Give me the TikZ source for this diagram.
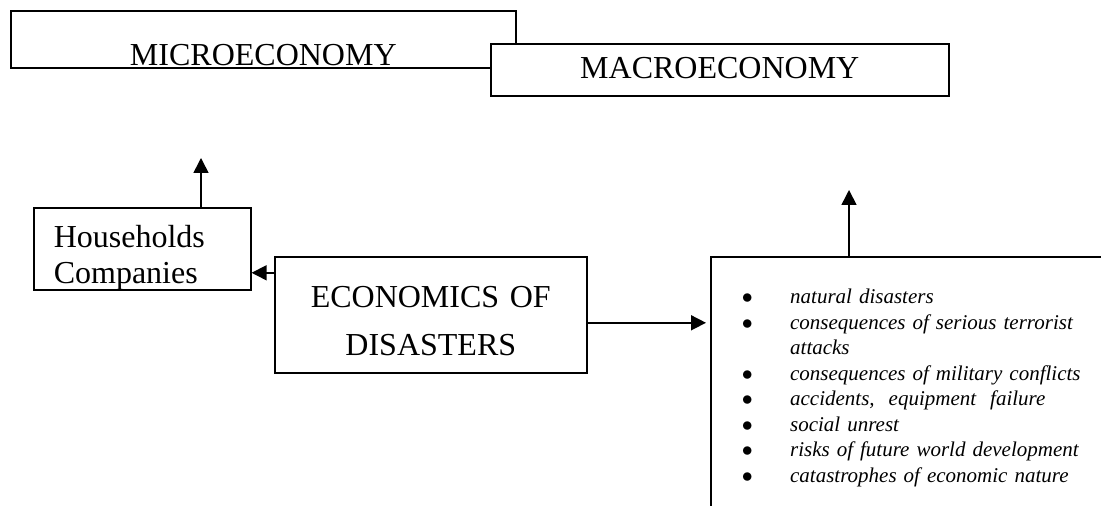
\documentclass[tikz,border=0pt]{standalone}
\usepackage{fontspec}
\setmainfont{Liberation Serif}
\usetikzlibrary{arrows.meta}

\begin{document}
\begin{tikzpicture}[
    x=0.5pt, y=-0.5pt,
    box/.style={rectangle, draw, thick, inner sep=0pt, anchor=north west, font=\fontsize{16}{18}\selectfont},
    arrow/.style={-{Triangle[length=7.5pt, width=7.5pt]}, thick}
]
\useasboundingbox (0,0) rectangle (1101,506);
\clip (0,0) rectangle (1101,506);

% Micro and macro level
\node[box, minimum width=252.5pt, text height=27.5pt, text depth=1pt] (micro) at (10,10) {MICROECONOMY};
\node[box, fill=white, minimum width=229pt, text height=17.5pt, text depth=8.5pt] (macro) at (490,43) {MACROECONOMY};

% Households
\node[box, text width=88.5pt, inner xsep=10pt, align=left, text height=20pt, text depth=21pt] (house) at (33,207) {Households\\Companies};

% Economics of disasters
\node[box, text width=156pt, align=center, font=\fontsize{16}{24}\selectfont, text height=25.5pt, text depth=32.5pt] (econ) at (274,256) {ECONOMICS OF\\DISASTERS};

% Kinds of disasters
\node[box, text width=205pt, align=left, font=\fontsize{10.5}{12.75}\selectfont\itshape, text height=23.5pt, text depth=113.5pt] (kinds) at (710,256) {\hspace*{15.5pt}\begin{tabular}[t]{@{}l@{\hspace{18.7pt}}l@{}}
$\bullet$ & natural disasters\\
$\bullet$ & consequences of serious terrorist\\
 & attacks\\
$\bullet$ & consequences of military conflicts\\
$\bullet$ & accidents,\ \ equipment\ \ failure\\
$\bullet$ & social unrest\\
$\bullet$ & risks of future world development\\
$\bullet$ & catastrophes of economic nature
\end{tabular}};

% Arrows
\coordinate (microtip) at (201,158);
\coordinate (macrotip) at (849,190);
\coordinate (econout) at ([yshift=21pt]econ.west);
\coordinate (kindsin) at ([yshift=-4pt]econ.east);
\draw[arrow] (house.north -| microtip) -- (microtip);
\draw[arrow] (econout) -- (econout -| house.east);
\draw[arrow, shorten >=2pt] (kindsin) -- (kindsin -| kinds.west);
\draw[arrow] (kinds.north -| macrotip) -- (macrotip);

\end{tikzpicture}
\end{document}
